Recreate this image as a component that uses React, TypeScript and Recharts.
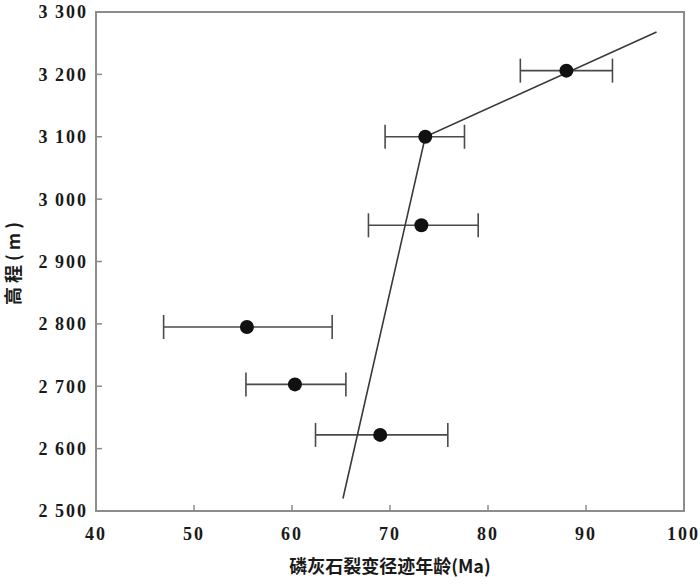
import React from 'react';
import {
  ScatterChart,
  Scatter,
  XAxis,
  YAxis,
  ErrorBar,
  ReferenceArea,
} from 'recharts';

// fission-track ages (Ma) vs elevation (m)
const ages = [88, 73.6, 73.2, 55.4, 60.3, 69];
const elevations = [3206, 3100, 2958, 2795, 2703, 2622];
const errMinus = [4.7, 4.1, 5.4, 8.5, 5.0, 6.6];
const errPlus = [4.7, 4.0, 5.8, 8.7, 5.2, 6.9];

// broken trend line
const trendAges = [65.2, 73.6, 97.2];
const trendElevations = [2520, 3100, 3268];

const xTicks = [40, 50, 60, 70, 80, 90, 100];
const yTicks = [2500, 2600, 2700, 2800, 2900, 3000, 3100, 3200, 3300];

const points = ages.map((age, i) => ({
  age,
  elev: elevations[i],
  err: [errMinus[i], errPlus[i]],
}));

const trend = trendAges.map((age, i) => ({ age, elev: trendElevations[i] }));

const axisGrey = '#8c8c8c';
const tickFont = {
  fill: '#1a1a1a',
  fontSize: 18,
  fontWeight: 700,
  fontFamily: '"Liberation Serif", "DejaVu Serif", serif',
  letterSpacing: 2,
};
const titleFont = {
  fill: '#1a1a1a',
  fontSize: 18,
  fontWeight: 700,
  fontFamily: '"Noto Sans CJK SC", "Liberation Serif", serif',
};

const fmtElev = (v: number) =>
  `${Math.floor(v / 1000)}\u2009${String(v % 1000).padStart(3, '0')}`;

export default function App() {
  return (
    <div style={{ position: 'absolute', left: 0, top: 0, background: '#fff' }}>
      <ScatterChart
        width={700}
        height={586}
        margin={{ top: 12, right: 16, bottom: 5, left: 4 }}
      >
        <XAxis
          type="number"
          dataKey="age"
          domain={[40, 100]}
          ticks={xTicks}
          allowDataOverflow
          height={70}
          axisLine={{ stroke: axisGrey, strokeWidth: 2 }}
          tickLine={{ stroke: axisGrey, strokeWidth: 1.5 }}
          tickSize={-6}
          tickMargin={22}
          tick={tickFont}
          label={{
            value: '磷灰石裂变径迹年龄(Ma)',
            position: 'insideBottom',
            offset: 8,
            style: titleFont,
          }}
        />
        <YAxis
          type="number"
          dataKey="elev"
          domain={[2500, 3300]}
          ticks={yTicks}
          allowDataOverflow
          width={92}
          axisLine={{ stroke: axisGrey, strokeWidth: 2 }}
          tickLine={{ stroke: axisGrey, strokeWidth: 1.5 }}
          tickSize={-6}
          tickMargin={14}
          tick={tickFont}
          tickFormatter={fmtElev}
          label={{
            value: '高程(m)',
            angle: -90,
            position: 'insideLeft',
            offset: 10,
            style: { ...titleFont, textAnchor: 'middle', letterSpacing: 4 },
          }}
        />
        <ReferenceArea
          x1={40}
          x2={100}
          y1={2500}
          y2={3300}
          fill="none"
          stroke={axisGrey}
          strokeWidth={2}
        />
        <Scatter
          data={trend}
          line={{ stroke: '#3a3a3a', strokeWidth: 1.6 }}
          shape={() => null}
          isAnimationActive={false}
        />
        <Scatter data={points} fill="#111" isAnimationActive={false}
          shape={(p: any) => <circle cx={p.cx} cy={p.cy} r={7} fill="#111" />}
        >
          <ErrorBar
            dataKey="err"
            direction="x"
            width={12}
            stroke="#4a4a4a"
            strokeWidth={1.6}
          />
        </Scatter>
      </ScatterChart>
    </div>
  );
}
